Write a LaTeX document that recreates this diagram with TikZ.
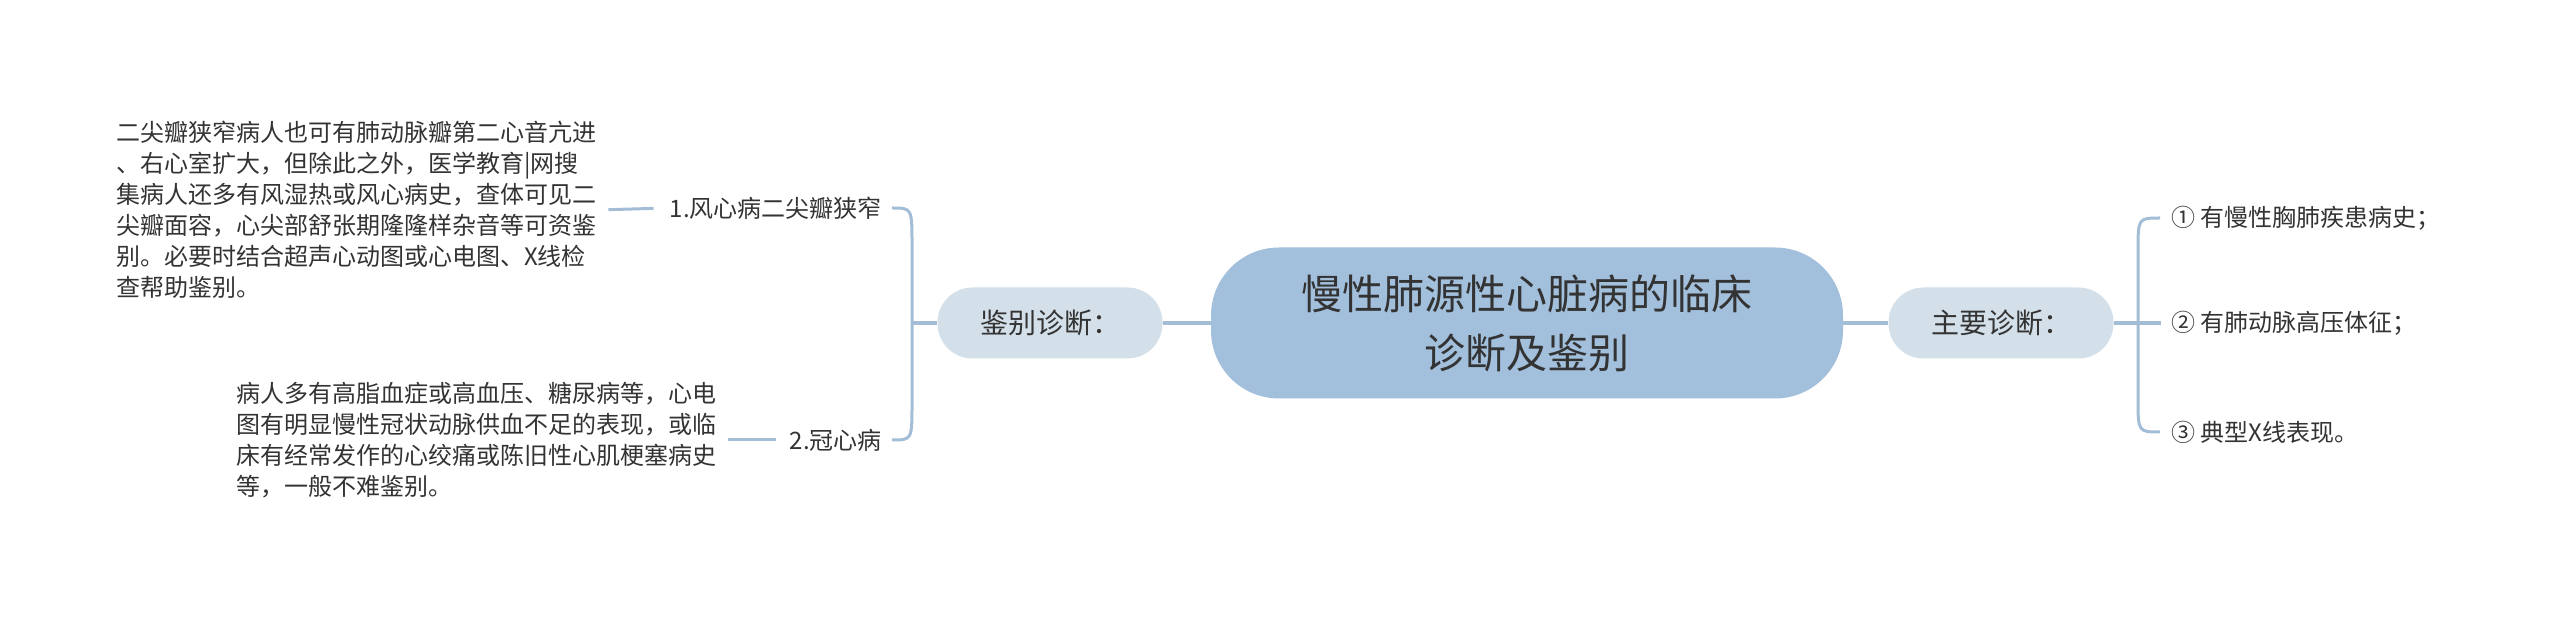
\documentclass[tikz,border=0pt]{standalone}
\usepackage{fontspec}
\newfontfamily\cjk{Noto Sans CJK SC}
\definecolor{topicfill}{HTML}{A2BFDC}
\definecolor{subfill}{HTML}{D3DFE9}
\definecolor{linkcol}{HTML}{A3BDD7}
\definecolor{inkcol}{HTML}{333333}
\begin{document}
\begin{tikzpicture}[x=1pt,y=-1pt,
  topic/.style={fill=topicfill, rounded corners=68pt, minimum width=632pt, minimum height=151pt, align=center, text=inkcol, font=\cjk\fontsize{41}{59}\selectfont},
  sub/.style={fill=subfill, rounded corners=35pt, minimum width=225pt, minimum height=71pt, text=inkcol, font=\cjk\fontsize{28}{34}\selectfont},
  leaf/.style={text=inkcol, inner sep=2pt, font=\cjk\fontsize{24}{31}\selectfont},
  note/.style={text=inkcol, inner sep=0pt, align=left, font=\cjk\fontsize{24}{31}\selectfont},
  link/.style={line width=3.5pt, linkcol},
  brace/.style={line width=3pt, linkcol}]
\useasboundingbox (0,0) rectangle (2560,617);
\node [topic] (root) at (1527,323) {慢性肺源性心脏病的临床\\诊断及鉴别};
\node [sub] (diff) at (1050,323) {鉴别诊断：};
\node [sub] (main) at (2001,323) {主要诊断：};
\node [leaf, anchor=east] (rheum) at (884,208) {1.风心病二尖瓣狭窄};
\node [leaf, anchor=east] (coron) at (884,440) {2.冠心病};
\node [note, anchor=west] (rheumnote) at (116,210) {二尖瓣狭窄病人也可有肺动脉瓣第二心音亢进\\
、右心室扩大，但除此之外，医学教育|网搜\\
集病人还多有风湿热或风心病史，查体可见二\\
尖瓣面容，心尖部舒张期隆隆样杂音等可资鉴\\
别。必要时结合超声心动图或心电图、X线检\\
查帮助鉴别。};
\node [note, anchor=west] (coronnote) at (236,440) {病人多有高脂血症或高血压、糖尿病等，心电\\
图有明显慢性冠状动脉供血不足的表现，或临\\
床有经常发作的心绞痛或陈旧性心肌梗塞病史\\
等，一般不难鉴别。};
\node [leaf, anchor=west] (hist) at (2169,218) {① 有慢性胸肺疾患病史；};
\node [leaf, anchor=west] (press) at (2169,323) {② 有肺动脉高压体征；};
\node [leaf, anchor=west] (xray) at (2169,432) {③ 典型X线表现。};
\coordinate (lfork) at (912,323);
\coordinate (rfork) at (2138,323);
\draw [link] (diff.east) -- (root.west);
\draw [link] (root.east) -- (main.west);
\draw [link] (lfork) -- (diff.west);
\draw [link, shorten >=8pt] (main.east) -- (press.west);
\draw [brace] ([xshift=8pt]rheum.east) .. controls (912,208) .. (912,245) -- (912,403) .. controls (912,440) .. ([xshift=8pt]coron.east);
\draw [brace] ([xshift=-9pt]hist.west) .. controls (2138,218) .. (2138,252) -- (2138,398) .. controls (2138,432) .. ([xshift=-9pt]xray.west);
\draw [brace, shorten <=12pt, shorten >=14pt] (rheumnote.east) -- (rheum.west);
\draw [brace, shorten <=12pt, shorten >=12pt] (coronnote.east) -- (coron.west);
\end{tikzpicture}
\end{document}
